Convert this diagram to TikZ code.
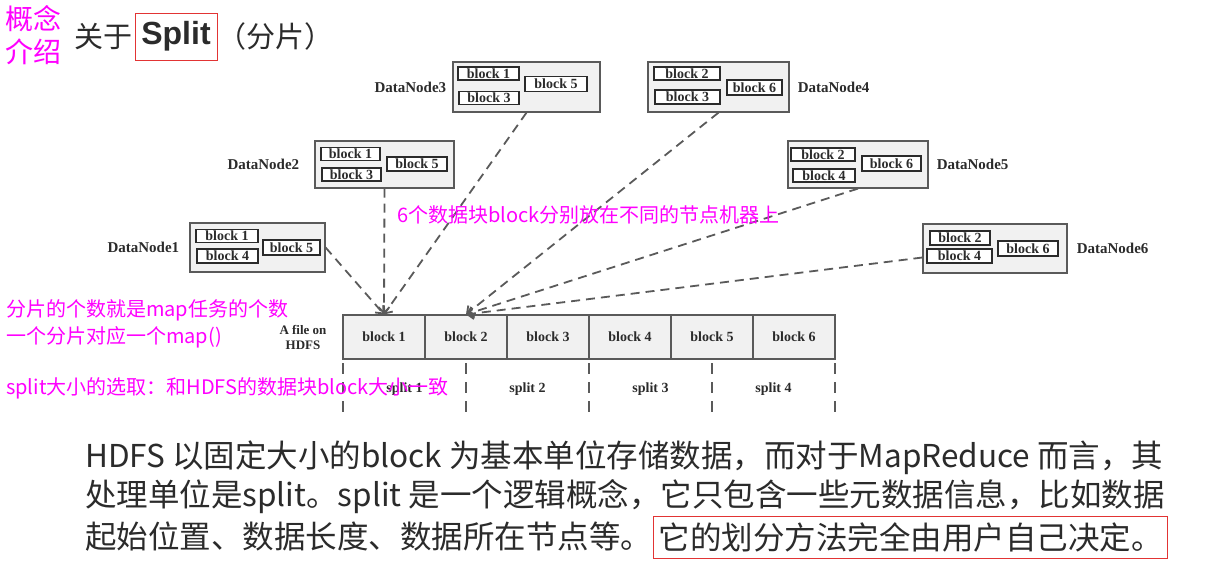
\documentclass[tikz,border=0pt]{standalone}
\usepackage{fontspec}
\setmainfont{Liberation Serif}
\newfontfamily\cjk{Noto Sans CJK SC}
\newfontfamily\arialsans{Liberation Sans}
\usetikzlibrary{positioning,arrows.meta}
\definecolor{hintc}{HTML}{FF00FF}
\definecolor{ink}{HTML}{2B2B2B}
\definecolor{boxline}{HTML}{5A5A5A}
\definecolor{boxfill}{HTML}{F1F1F1}
\definecolor{frame}{HTML}{E23434}

\begin{document}
\begin{tikzpicture}[x=1pt, y=-1pt,
		dnbox/.style={draw=boxline, fill=boxfill, line width=1.2pt, inner sep=0pt},
		blk/.style={draw=ink, fill=white, line width=1.3pt, inner sep=0pt, minimum height=13pt, font=\fontsize{14}{15}\selectfont\bfseries, text=ink},
		dnlabel/.style={font=\fontsize{15}{16}\selectfont\bfseries, text=ink, inner sep=0pt},
		cell/.style={draw=boxline, fill=boxfill, line width=1.2pt, minimum width=82pt, minimum height=44pt, inner sep=0pt, font=\fontsize{14}{15}\selectfont\bfseries, text=ink},
		link/.style={draw=boxline, line width=1.8pt, dash pattern=on 9pt off 6pt, -{Straight Barb[length=6pt,width=11pt]}},
		cut/.style={draw=boxline, line width=1.6pt, dash pattern=on 11pt off 8pt},
		hint/.style={text=hintc, font=\cjk\fontsize{20}{22}\selectfont, anchor=west, inner sep=0pt},
		body/.style={text=ink, font=\cjk\fontsize{31.5}{33}\selectfont, anchor=west, inner sep=0pt}]
		\path[use as bounding box, fill=white] (0,0) rectangle (1224,565);
		% title
		\node[hint, font=\cjk\fontsize{28}{30}\selectfont] (c1a) at (5,19) {概念};
		\node[hint, font=\cjk\fontsize{28}{30}\selectfont] (c1b) at (5,52) {介绍};
		\node[draw=frame, line width=1pt, minimum width=82pt, minimum height=47pt, inner sep=0pt, text=ink, font=\arialsans\fontsize{32}{34}\selectfont\bfseries] (splt) at (176,36.5) {Split};
		\node[text=ink, font=\cjk\fontsize{29}{31}\selectfont, inner sep=0pt, left=2pt of splt] (ttl) {关于};
		\node[text=ink, font=\cjk\fontsize{29}{31}\selectfont, inner sep=0pt, right=0pt of splt] (par) {（分片）};
		% data nodes
		\node[dnbox, minimum width=147pt, minimum height=50pt] (dn3) at (526.5,87) {};
		\node[blk, minimum width=61pt] (dn3a) at (488.5,73.5) {block 1};
		\node[blk, minimum width=60pt] (dn3b) at (489,98) {block 3};
		\node[blk, minimum width=62pt, minimum height=15pt] (dn3c) at (556,84) {block 5};
		\node[dnlabel, left=6pt of dn3] (l3) {DataNode3};
		\node[dnbox, minimum width=141pt, minimum height=50pt] (dn4) at (718.5,87) {};
		\node[blk, minimum width=66pt] (dn4a) at (687,73.5) {block 2};
		\node[blk, minimum width=65pt, minimum height=14pt] (dn4b) at (687.5,97) {block 3};
		\node[blk, minimum width=55pt, minimum height=15pt] (dn4c) at (754.5,87.5) {block 6};
		\node[dnlabel, right=8pt of dn4] (l4) {DataNode4};
		\node[dnbox, minimum width=139pt, minimum height=47pt] (dn2) at (384.5,164.5) {};
		\node[blk, minimum width=59pt] (dn2a) at (350.5,154) {block 1};
		\node[blk, minimum width=59pt] (dn2b) at (351.5,174.5) {block 3};
		\node[blk, minimum width=60pt, minimum height=14pt] (dn2c) at (417,164) {block 5};
		\node[dnlabel, left=15pt of dn2] (l2) {DataNode2};
		\node[dnbox, minimum width=140pt, minimum height=47pt] (dn5) at (858,164.5) {};
		\node[blk, minimum width=64pt] (dn5a) at (823,154.5) {block 2};
		\node[blk, minimum width=62pt] (dn5b) at (824,175.5) {block 4};
		\node[blk, minimum width=59pt, minimum height=15pt] (dn5c) at (891.5,163.5) {block 6};
		\node[dnlabel, right=8pt of dn5] (l5) {DataNode5};
		\node[dnbox, minimum width=135pt, minimum height=49pt] (dn1) at (257.5,247.5) {};
		\node[blk, minimum width=62pt] (dn1a) at (227,236) {block 1};
		\node[blk, minimum width=61pt, minimum height=14pt] (dn1b) at (227.5,256) {block 4};
		\node[blk, minimum width=57pt, minimum height=15pt] (dn1c) at (291.5,247.5) {block 5};
		\node[dnlabel, left=10pt of dn1] (l1) {DataNode1};
		\node[dnbox, minimum width=144pt, minimum height=49pt] (dn6) at (995,248.5) {};
		\node[blk, minimum width=60pt, minimum height=14pt] (dn6a) at (960,238) {block 2};
		\node[blk, minimum width=65pt, minimum height=14pt] (dn6b) at (959.5,256) {block 4};
		\node[blk, minimum width=60pt, minimum height=15pt] (dn6c) at (1028,248.5) {block 6};
		\node[dnlabel, right=9pt of dn6] (l6) {DataNode6};
		% the file and its splits
		\foreach \i in {1,...,6}
			\node[cell] (c\i) at ({343+82*(\i-0.5)},337) {block \i};
		\node[font=\fontsize{13}{15}\selectfont\bfseries, text=ink, align=center, inner sep=0pt] (file) at (303,337) {A file on\\HDFS};
		\foreach \x in {343,466,589,712,835}
			\draw[cut] (\x,363) -- (\x,415);
		\foreach \i in {1,...,4}
			\node[font=\fontsize{14}{15}\selectfont\bfseries, text=ink, inner sep=0pt] (s\i) at ({404.5+123*(\i-1)},389) {split \i};
		% connectors
		\draw[link] (dn1.east) -- (c1.north);
		\draw[link] (dn2.south) -- (c1.north);
		\draw[link] (dn3.south) -- (c1.north);
		\draw[link] (dn4.south) -- (c2.north);
		\draw[link] (dn5.south) -- (c2.north);
		\draw[link] ([yshift=-9pt]dn6.west) -- (c2.north);
		% notes
		\node[hint] (n1) at (397,215) {6个数据块block分别放在不同的节点机器上};
		\node[hint] (n2) at (6,310) {分片的个数就是map任务的个数};
		\node[hint] (n3) at (6,337) {一个分片对应一个map()};
		\node[hint] (n4) at (6,388) {split大小的选取：和HDFS的数据块block大小一致};
		% text below
		\node[body] (t1) at (85,458) {HDFS 以固定大小的block 为基本单位存储数据，而对于MapReduce 而言，其};
		\node[body] (t2) at (85,497) {处理单位是split。split 是一个逻辑概念，它只包含一些元数据信息，比如数据};
		\node[body] (t3) at (85,537) {起始位置、数据长度、数据所在节点等。};
		\node[body, anchor=center, draw=frame, line width=1pt, inner xsep=5pt, minimum height=42pt, right=1pt of t3] (t4) {它的划分方法完全由用户自己决定。};
	\end{tikzpicture}
\end{document}
